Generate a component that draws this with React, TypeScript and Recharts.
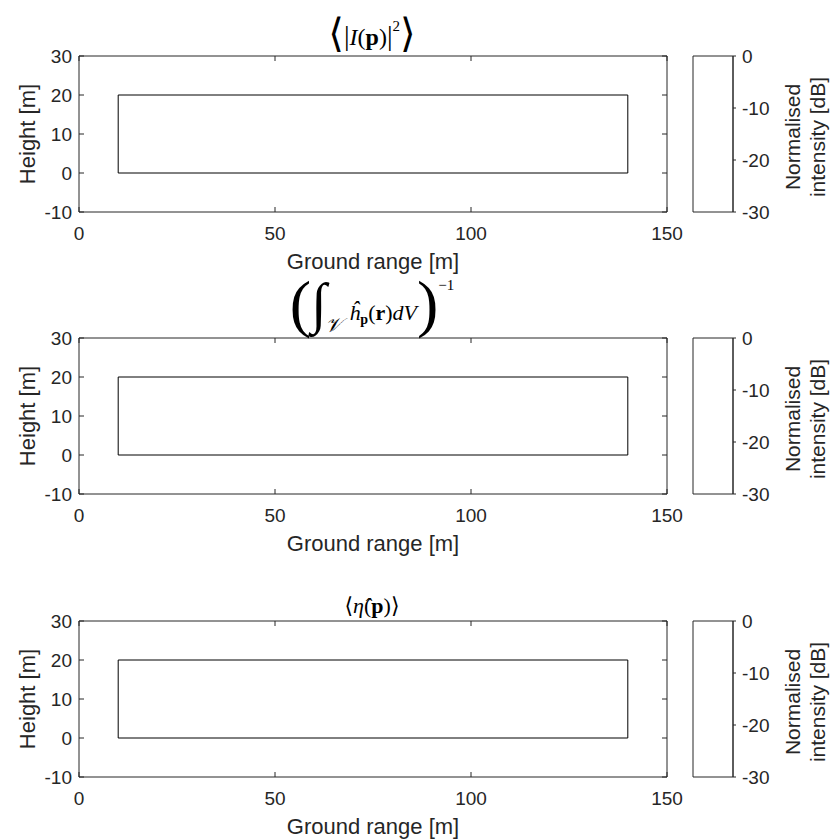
import { ComposedChart, Line, Bar, XAxis, YAxis } from 'recharts'

// axes limits and ticks
const groundDomain = [0, 150]
const groundTicks = [0, 50, 100, 150]
const heightDomain = [-10, 30]
const heightTicks = [-10, 0, 10, 20, 30]

// scene outline (ground range / height corners, closed)
const sceneX = [10, 140, 140, 10, 10]
const sceneY = [0, 0, 20, 20, 0]

// colour bar
const colourRange = [-30, 0]
const colourTicks = [0, -10, -20, -30]

// top edge of each of the three plot boxes
const panelTops = [56, 338, 621]

const sceneData = sceneX.map((x, i) => ({ x, y: sceneY[i] }))
const colourData = [{ name: 'cb', range: colourRange }]

const ink = '#262626'
const serif = "'Liberation Serif', 'DejaVu Serif', serif"
const TICK = 5 // inward tick length, MATLAB style
const BOTTOM_GAP = 15
const LEFT_GAP = 7

// ticks drawn inside the box: recharts hands us the label anchor, the box edge is a fixed gap away
function BottomTick({ x, y, payload }: any) {
  const edge = y - BOTTOM_GAP
  return (
    <g>
      <line x1={x} x2={x} y1={edge} y2={edge - TICK} stroke={ink} />
      <text x={x} y={y} dy="0.71em" textAnchor="middle" fill={ink} fontSize={19}>
        {payload.value}
      </text>
    </g>
  )
}

function LeftTick({ x, y, payload }: any) {
  const edge = x + LEFT_GAP
  return (
    <g>
      <line x1={edge} x2={edge + TICK} y1={y} y2={y} stroke={ink} />
      <text x={x} y={y} dy="0.355em" textAnchor="end" fill={ink} fontSize={19}>
        {payload.value}
      </text>
    </g>
  )
}

function TopTick({ x, y }: any) {
  return <line x1={x} x2={x} y1={y} y2={y + TICK} stroke={ink} />
}

function RightTick({ x, y }: any) {
  return <line x1={x} x2={x - TICK} y1={y} y2={y} stroke={ink} />
}

function ColourLabel(props: any) {
  const { x, y, height } = props.viewBox
  const cx = x + 72
  const cy = y + height / 2 + 3
  return (
    <g transform={`translate(${cx},${cy}) rotate(-90)`}>
      <text x={0} y={-12.5} textAnchor="middle" dominantBaseline="central" fill={ink} fontSize={21}>
        Normalised
      </text>
      <text x={0} y={12.5} textAnchor="middle" dominantBaseline="central" fill={ink} fontSize={21}>
        intensity [dB]
      </text>
    </g>
  )
}

function Panel({ top }: { top: number }) {
  return (
    <>
      <div style={{ position: 'absolute', left: 0, top: top - 40 }}>
        <ComposedChart
          width={690}
          height={266}
          data={sceneData}
          margin={{ top: 39, right: 22, bottom: 0, left: 0 }}
        >
          <XAxis
            xAxisId="b"
            type="number"
            dataKey="x"
            domain={groundDomain}
            ticks={groundTicks}
            interval={0}
            allowDataOverflow
            height={70}
            tickSize={0}
            tickMargin={BOTTOM_GAP}
            tickLine={false}
            stroke={ink}
            tick={<BottomTick />}
            label={{ value: 'Ground range [m]', position: 'insideBottom', offset: 13, fill: ink, fontSize: 22 }}
          />
          <XAxis
            xAxisId="t"
            orientation="top"
            type="number"
            dataKey="x"
            domain={groundDomain}
            ticks={groundTicks}
            interval={0}
            allowDataOverflow
            height={1}
            tickSize={0}
            tickMargin={0}
            tickLine={false}
            stroke={ink}
            tick={<TopTick />}
          />
          <YAxis
            yAxisId="l"
            type="number"
            domain={heightDomain}
            ticks={heightTicks}
            interval={0}
            allowDataOverflow
            width={79}
            tickSize={0}
            tickMargin={LEFT_GAP}
            tickLine={false}
            stroke={ink}
            tick={<LeftTick />}
            label={{
              value: 'Height [m]',
              angle: -90,
              position: 'insideLeft',
              offset: 27,
              fill: ink,
              fontSize: 22,
              style: { textAnchor: 'middle' },
            }}
          />
          <YAxis
            yAxisId="r"
            orientation="right"
            type="number"
            domain={heightDomain}
            ticks={heightTicks}
            interval={0}
            allowDataOverflow
            width={1}
            tickSize={0}
            tickMargin={0}
            tickLine={false}
            stroke={ink}
            tick={<RightTick />}
          />
          <Line
            xAxisId="b"
            yAxisId="l"
            dataKey="y"
            type="linear"
            stroke="#000"
            strokeWidth={1}
            dot={false}
            isAnimationActive={false}
          />
        </ComposedChart>
      </div>
      <div style={{ position: 'absolute', left: 680, top: top - 40 }}>
        <ComposedChart
          width={151}
          height={266}
          data={colourData}
          margin={{ top: 40, right: 0, bottom: 70, left: 13 }}
          barCategoryGap={0}
        >
          <XAxis dataKey="name" type="category" hide />
          <YAxis
            orientation="right"
            type="number"
            domain={colourRange}
            ticks={colourTicks}
            interval={0}
            width={98}
            tickSize={3}
            tickMargin={6}
            stroke={ink}
            tick={{ fill: ink, fontSize: 19 }}
            label={{ content: ColourLabel }}
          />
          <Bar dataKey="range" fill="#fff" stroke={ink} strokeWidth={1} isAnimationActive={false} />
        </ComposedChart>
      </div>
    </>
  )
}

export default function App() {
  return (
    <div
      style={{
        position: 'absolute',
        left: 0,
        top: 0,
        width: 831,
        height: 839,
        background: '#fff',
        fontFamily: "'Liberation Sans', Arial, sans-serif",
      }}
    >
      {panelTops.map((t) => (
        <Panel key={t} top={t} />
      ))}
      <svg width={831} height={839} style={{ position: 'absolute', left: 0, top: 0, pointerEvents: 'none' }}>
        <text x={372} y={45} textAnchor="middle" fontFamily={serif} fontSize={24} fill="#000">
          <tspan fontSize={40} fontWeight={300} dy={2}>⟨</tspan>
          <tspan fontSize={28} dy={-2}>|</tspan>
          <tspan fontStyle="italic">I</tspan>
          <tspan>(</tspan>
          <tspan fontWeight="bold">p</tspan>
          <tspan>)</tspan>
          <tspan fontSize={28}>|</tspan>
          <tspan fontSize={15} dy={-14}>2</tspan>
          <tspan fontSize={40} fontWeight={300} dy={16}>⟩</tspan>
        </text>
        <text x={372} y={320} textAnchor="middle" fontFamily={serif} fontSize={22} fill="#000">
          <tspan fontSize={64} fontWeight={300} dy={5}>(</tspan>
          <tspan fontSize={56} fontWeight={300} dy={-3}>∫</tspan>
          <tspan fontSize={20} fontStyle="italic" dx={-1} dy={10}>𝒱</tspan>
          <tspan fontStyle="italic" dx={7} dy={-12}>ĥ</tspan>
          <tspan fontSize={14} fontWeight="bold" dy={4}>p</tspan>
          <tspan dy={-4}>(</tspan>
          <tspan fontWeight="bold">r</tspan>
          <tspan>)</tspan>
          <tspan fontStyle="italic">dV</tspan>
          <tspan fontSize={64} fontWeight={300} dy={5}>)</tspan>
          <tspan fontSize={15} dy={-35}>−1</tspan>
        </text>
        <text x={372} y={613} textAnchor="middle" fontFamily={serif} fontSize={22} fill="#000">
          <tspan>⟨</tspan>
          <tspan fontStyle="italic">η̂</tspan>
          <tspan>(</tspan>
          <tspan fontWeight="bold">p</tspan>
          <tspan>)⟩</tspan>
        </text>
      </svg>
    </div>
  )
}
